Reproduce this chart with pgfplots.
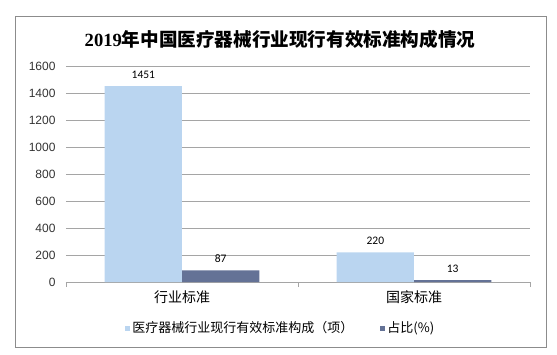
\documentclass[border=0pt]{standalone}
\usepackage{pgfplots}
\pgfplotsset{compat=1.18}
\usepackage{fontspec}
\setmainfont{Liberation Sans}
\newfontfamily\cjk{Noto Sans CJK SC}
\newfontfamily\calib{Carlito}
\newfontfamily\serifd{Liberation Serif}
\definecolor{barA}{RGB}{186,213,240}
\definecolor{barB}{RGB}{100,114,150}
\definecolor{gridc}{RGB}{165,165,165}
\definecolor{framec}{RGB}{140,140,140}
\begin{document}
\begin{tikzpicture}[x=1pt,y=1pt]
\useasboundingbox (0,0) rectangle (557,354);
\draw[framec, line width=1pt] (15,7) rectangle (546,337);
\node[font=\cjk\fontsize{18.6}{20}\selectfont\bfseries] at (280,315) {{\serifd\bfseries 2019}年中国医疗器械行业现行有效标准构成情况};
\begin{axis}[
  at={(66pt,72pt)}, anchor=south west,
  scale only axis, width=464pt, height=216pt,
  xmin=-0.5, xmax=1.5, ymin=0, ymax=1600,
  ytick={0,200,...,1600},
  ymajorgrids, grid style={gridc, line width=0.8pt},
  axis x line*=bottom, axis y line*=left,
  every outer x axis line/.append style={-},
  every outer y axis line/.append style={-},
  y axis line style={draw=none},
  x axis line style={gridc, line width=1pt, -},
  ytick style={draw=none},
  xtick={-0.5,0.5,1.5},
  x tick label as interval,
  xticklabels={行业标准,国家标准},
  xtick style={gridc, line width=0.8pt},
  tick align=outside, major tick length=5pt,
  /pgf/number format/assume math mode=true,
  /pgf/number format/1000 sep={},
  yticklabel style={font=\fontsize{12}{12}\selectfont, text=black!80, xshift=-2pt},
  xticklabel style={font=\cjk\fontsize{14}{14}\selectfont, text=black},
  ybar, clip=false,
  nodes near coords,
  nodes near coords style={font=\calib\fontsize{11.5}{11.5}\selectfont, text=black, anchor=south, yshift=4pt},
  legend style={at={(0.463,-0.213)}, anchor=center, draw=none, fill=none,
    legend columns=2, font=\cjk\fontsize{13}{13}\selectfont,
    /tikz/every even column/.append style={column sep=25pt}},
  legend image code/.code={\path[#1,draw=none] (0pt,-2.5pt) rectangle (5pt,2.5pt);},
]
\addplot[fill=barA, draw=none, bar width=0.3333, bar shift=-0.16667] coordinates {(0,1451) (1,220)};
\addplot[fill=barB, draw=none, bar width=0.3333, bar shift=0.16667] coordinates {(0,87) (1,13)};
\legend{医疗器械行业现行有效标准构成（项）,占比(\%)}
\end{axis}
\end{tikzpicture}
\end{document}
